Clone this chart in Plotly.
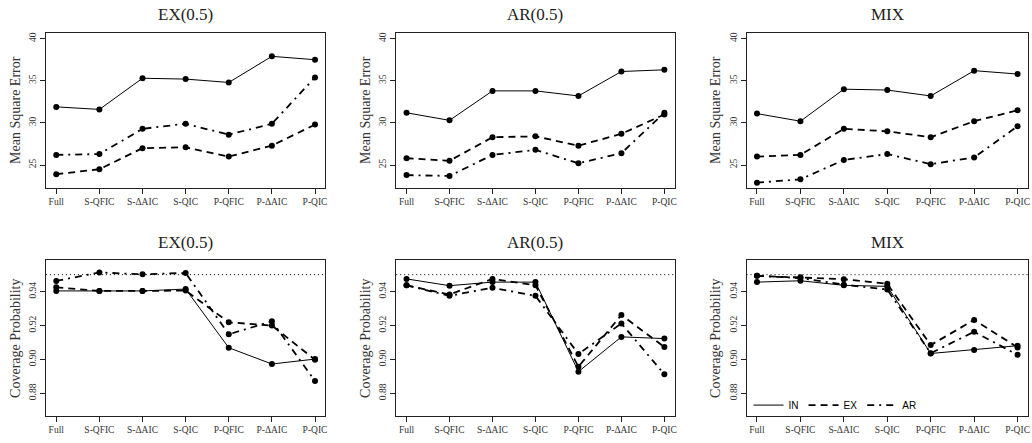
import plotly.graph_objects as go

# ---------------- data ----------------
CATEGORIES = ["Full", "S-QFIC", "S-ΔAIC", "S-QIC", "P-QFIC", "P-ΔAIC", "P-QIC"]
PANEL_TITLES = ["EX(0.5)", "AR(0.5)", "MIX"]
SERIES_NAMES = ["IN", "EX", "AR"]

MSE_EX05_IN = [31.9, 31.6, 35.3, 35.2, 34.8, 37.9, 37.5]
MSE_EX05_EX = [23.9, 24.5, 27.0, 27.1, 26.0, 27.3, 29.8]
MSE_EX05_AR = [26.2, 26.3, 29.3, 29.9, 28.6, 29.9, 35.4]

MSE_AR05_IN = [31.2, 30.3, 33.8, 33.8, 33.2, 36.1, 36.3]
MSE_AR05_EX = [25.8, 25.5, 28.3, 28.4, 27.3, 28.7, 31.0]
MSE_AR05_AR = [23.8, 23.7, 26.2, 26.8, 25.2, 26.4, 31.2]

MSE_MIX_IN = [31.1, 30.2, 34.0, 33.9, 33.2, 36.2, 35.8]
MSE_MIX_EX = [26.0, 26.2, 29.3, 29.0, 28.3, 30.2, 31.5]
MSE_MIX_AR = [22.9, 23.3, 25.6, 26.3, 25.1, 25.9, 29.6]

CP_EX05_IN = [0.9404, 0.9404, 0.9404, 0.9415, 0.9069, 0.8973, 0.9002]
CP_EX05_EX = [0.9425, 0.9404, 0.9404, 0.9406, 0.9219, 0.9200, 0.8998]
CP_EX05_AR = [0.9463, 0.9513, 0.9502, 0.9510, 0.9148, 0.9225, 0.8873]

CP_AR05_IN = [0.9475, 0.9435, 0.9456, 0.9456, 0.8928, 0.9133, 0.9123]
CP_AR05_EX = [0.9437, 0.9383, 0.9475, 0.9437, 0.8957, 0.9262, 0.9073]
CP_AR05_AR = [0.9437, 0.9375, 0.9423, 0.9375, 0.9032, 0.9212, 0.8912]

CP_MIX_IN = [0.9456, 0.9464, 0.9437, 0.9431, 0.9035, 0.9056, 0.9081]
CP_MIX_EX = [0.9493, 0.9485, 0.9473, 0.9446, 0.9085, 0.9233, 0.9071]
CP_MIX_AR = [0.9493, 0.9480, 0.9441, 0.9412, 0.9037, 0.9163, 0.9027]

MSE_TICKS = [25, 30, 35, 40]
CP_TICKS = [0.88, 0.90, 0.92, 0.94]
CP_TICK_TEXT = ["0.88", "0.90", "0.92", "0.94"]
NOMINAL_LEVEL = 0.95

# ---------------- styling ----------------
W, H = 1032, 443
SERIF = "Liberation Serif, DejaVu Serif, serif"
SANS = "Liberation Sans, Arial, sans-serif"
STYLES = {
    "IN": dict(width=1, dash="solid"),
    "EX": dict(width=1.8, dash="7px,5px"),
    "AR": dict(width=1.8, dash="7px,5px,2px,5px"),
}

X_DOMAINS = [(46, 326), (397, 676), (748, 1030)]
Y_DOMAINS_PX = [(32, 187), (260, 416)]

def xdom(px):
    return [px[0] / W, px[1] / W]

def ydom(px):
    return [1 - px[1] / H, 1 - px[0] / H]

panels = [
    (0, 0, [MSE_EX05_IN, MSE_EX05_EX, MSE_EX05_AR]),
    (0, 1, [MSE_AR05_IN, MSE_AR05_EX, MSE_AR05_AR]),
    (0, 2, [MSE_MIX_IN, MSE_MIX_EX, MSE_MIX_AR]),
    (1, 0, [CP_EX05_IN, CP_EX05_EX, CP_EX05_AR]),
    (1, 1, [CP_AR05_IN, CP_AR05_EX, CP_AR05_AR]),
    (1, 2, [CP_MIX_IN, CP_MIX_EX, CP_MIX_AR]),
]

fig = go.Figure()
xs = list(range(1, len(CATEGORIES) + 1))
annotations = []

for idx, (row, col, series) in enumerate(panels):
    n = idx + 1
    xa = "x" if n == 1 else f"x{n}"
    ya = "y" if n == 1 else f"y{n}"
    for name, vals in zip(SERIES_NAMES, series):
        fig.add_trace(go.Scatter(
            x=xs, y=vals, mode="lines+markers", name=name,
            line=dict(color="black", **STYLES[name]),
            marker=dict(color="black", size=6),
            xaxis=xa, yaxis=ya, showlegend=False,
        ))
    axis_common = dict(
        showline=True, linecolor="#222", linewidth=1, mirror=True,
        ticks="outside", ticklen=5, tickcolor="#222", showgrid=False, zeroline=False,
    )
    fig.layout[("xaxis" if n == 1 else f"xaxis{n}")] = dict(
        domain=xdom(X_DOMAINS[col]), anchor=ya, range=[0.76, 7.24],
        tickvals=xs, ticktext=CATEGORIES,
        tickfont=dict(family=SERIF, size=9.5, color="#333"), **axis_common,
    )
    if row == 0:
        ydict = dict(range=[22.32, 40.68], tickvals=MSE_TICKS,
                     title=dict(text="Mean Square Error", font=dict(family=SERIF, size=14, color="#333"), standoff=4))
    else:
        ydict = dict(range=[0.8666, 0.9584], tickvals=CP_TICKS, ticktext=CP_TICK_TEXT,
                     title=dict(text="Coverage Probability", font=dict(family=SERIF, size=14, color="#333"), standoff=4))
        fig.add_shape(type="line", xref=f"{xa} domain", yref=ya, x0=0, x1=1,
                      y0=NOMINAL_LEVEL, y1=NOMINAL_LEVEL,
                      line=dict(color="black", width=1, dash="1px,3px"))
    fig.layout[("yaxis" if n == 1 else f"yaxis{n}")] = dict(
        domain=ydom(Y_DOMAINS_PX[row]), anchor=xa, tickangle=-90,
        tickfont=dict(family=SERIF, size=9.5, color="#333"), **axis_common, **ydict,
    )
    annotations.append(dict(
        text=PANEL_TITLES[col], xref="paper", yref="paper",
        x=(X_DOMAINS[col][0] + X_DOMAINS[col][1]) / 2 / W,
        y=1 - (Y_DOMAINS_PX[row][0] - 18) / H,
        showarrow=False, font=dict(family=SERIF, size=17, color="#222"),
        xanchor="center", yanchor="middle",
    ))

# legend-only traces (bottom-right panel)
for name in SERIES_NAMES:
    fig.add_trace(go.Scatter(
        x=[None], y=[None], mode="lines", name=name,
        line=dict(color="black", **STYLES[name]),
        xaxis="x6", yaxis="y6", showlegend=True,
    ))

fig.update_layout(
    width=W, height=H,
    margin=dict(l=0, r=0, t=0, b=0),
    paper_bgcolor="white", plot_bgcolor="white",
    annotations=annotations,
    legend=dict(orientation="h", x=750 / W, y=1 - 405 / H, xanchor="left", yanchor="middle",
                font=dict(family=SANS, size=10, color="black"), bgcolor="rgba(0,0,0,0)",
                itemwidth=30, tracegroupgap=0),
)

fig.write_html(
    "out.html",
    config={"displayModeBar": False},
    post_script="document.body.style.margin='0';document.body.style.overflow='hidden';",
)
